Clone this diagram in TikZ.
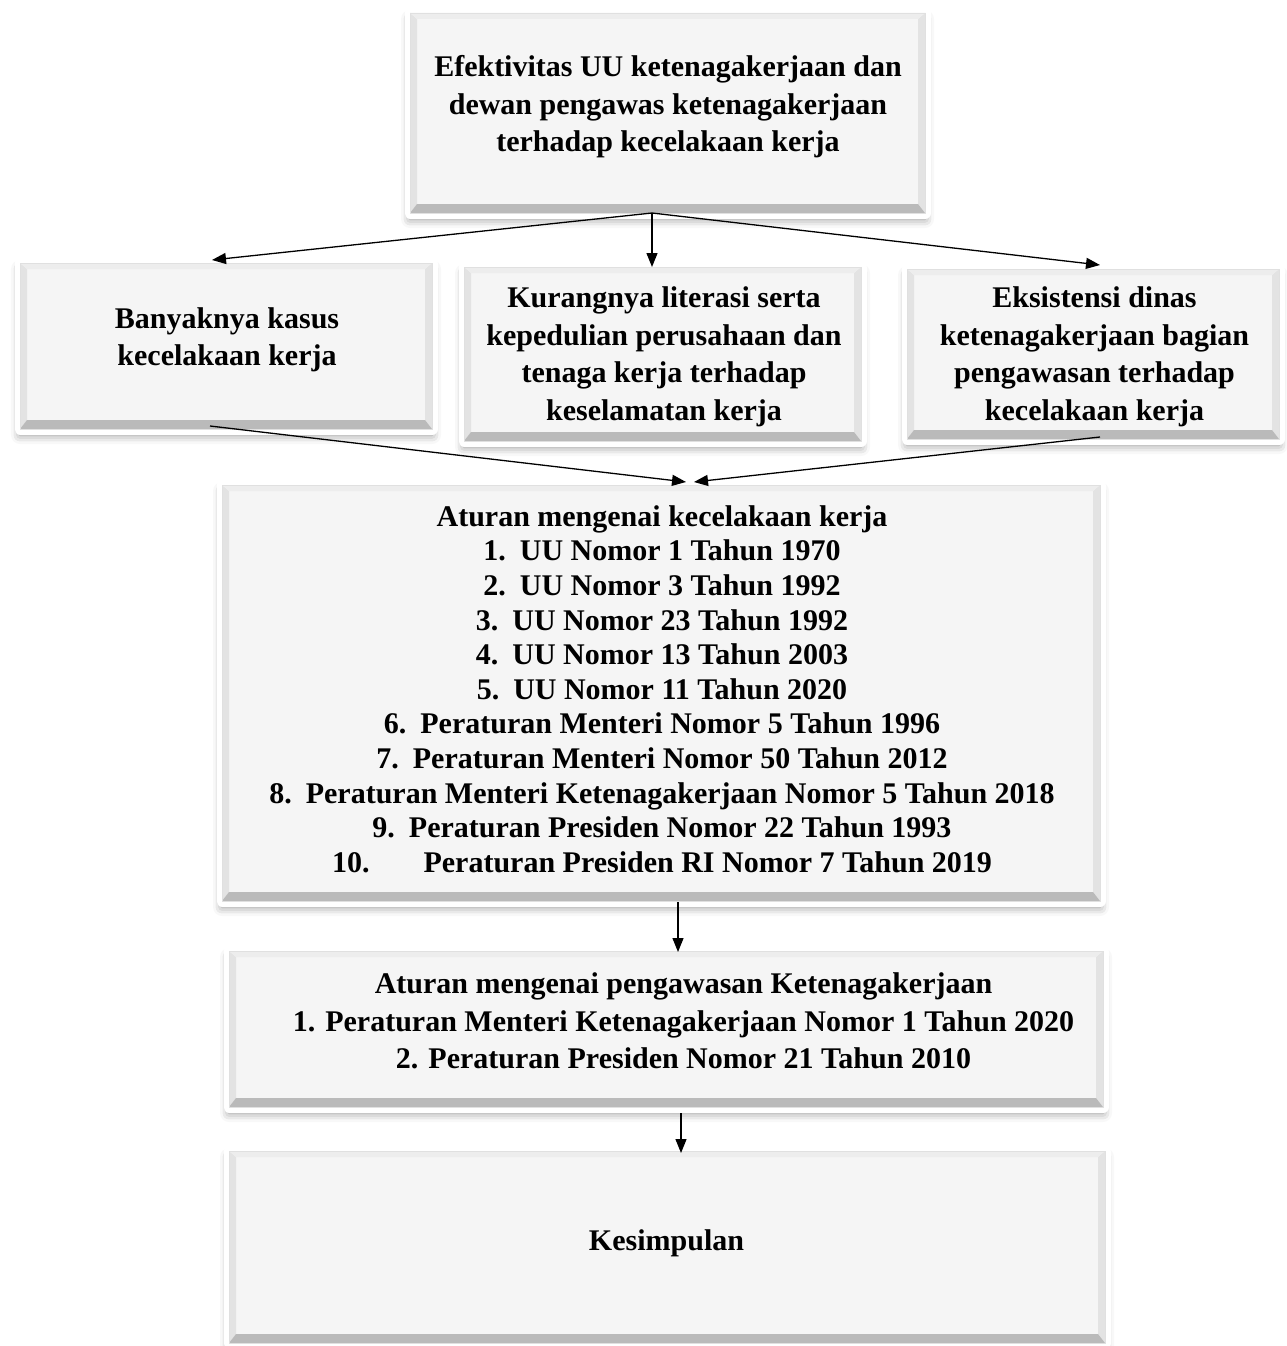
\documentclass[tikz,border=0pt]{standalone}
\usepackage{fontspec}
\setmainfont{Liberation Serif}
\usetikzlibrary{arrows.meta,shadows.blur}
\begin{document}
\begin{tikzpicture}[x=1pt,y=-1pt,
  box/.style={rectangle, inner sep=0pt,
    blur shadow={shadow xshift=0pt,shadow yshift=-6pt,shadow blur radius=9pt,shadow opacity=45},
    preaction={draw=white,line width=11pt,line join=round},
    fill=black!4, draw=black!12, line width=0.8pt,
    path picture={
      \coordinate (pSW) at (path picture bounding box.south west);
      \coordinate (pSE) at (path picture bounding box.south east);
      \coordinate (pNW) at (path picture bounding box.north west);
      \coordinate (pNE) at (path picture bounding box.north east);
      \fill[black!11] (pSW) -- ([xshift=7pt,yshift=9pt]pSW) -- ([xshift=7pt,yshift=-6pt]pNW) -- (pNW) -- cycle;
      \fill[black!11] (pSE) -- ([xshift=-7pt,yshift=9pt]pSE) -- ([xshift=-7pt,yshift=-6pt]pNE) -- (pNE) -- cycle;
      \fill[black!7] (pNW) -- (pNE) -- ([xshift=-7pt,yshift=-6pt]pNE) -- ([xshift=7pt,yshift=-6pt]pNW) -- cycle;
      \fill[black!27] (pSW) -- (pSE) -- ([xshift=-7pt,yshift=9pt]pSE) -- ([xshift=7pt,yshift=9pt]pSW) -- cycle;
    }},
  txt/.style={align=center, font=\fontsize{30}{37.5}\selectfont\bfseries, inner sep=0pt},
  arr/.style={line width=1.3pt, -{Triangle[length=14pt,width=11pt]}}]
\useasboundingbox (0,0) rectangle (1286,1346);

\node[box, minimum width=515pt, minimum height=200pt] (top) at (667.5,113) {};
\node[txt] (ttop) at (668,107) {Efektivitas UU ketenagakerjaan dan\\dewan pengawas ketenagakerjaan\\terhadap kecelakaan kerja};

\node[box, minimum width=412pt, minimum height=166pt] (bl) at (226,346) {};
\node[txt] (tbl) at (227,340) {Banyaknya kasus\\kecelakaan kerja};

\node[box, minimum width=397pt, minimum height=174pt] (bm) at (662.5,354) {};
\node[txt] (tbm) at (664,357) {Kurangnya literasi serta\\kepedulian perusahaan dan\\tenaga kerja terhadap\\keselamatan kerja};

\node[box, minimum width=372pt, minimum height=170pt] (br) at (1093,354) {};
\node[txt] (tbr) at (1094.5,357) {Eksistensi dinas\\ketenagakerjaan bagian\\pengawasan terhadap\\kecelakaan kerja};

\node[box, minimum width=878pt, minimum height=416pt] (big) at (661,693) {};
\node[txt, font=\fontsize{30}{34.6}\selectfont\bfseries] (tbig) at (662,689) {Aturan mengenai kecelakaan kerja\\
1.\hspace{14pt}UU Nomor 1 Tahun 1970\\
2.\hspace{14pt}UU Nomor 3 Tahun 1992\\
3.\hspace{14pt}UU Nomor 23 Tahun 1992\\
4.\hspace{14pt}UU Nomor 13 Tahun 2003\\
5.\hspace{14pt}UU Nomor 11 Tahun 2020\\
6.\hspace{14pt}Peraturan Menteri Nomor 5 Tahun 1996\\
7.\hspace{14pt}Peraturan Menteri Nomor 50 Tahun 2012\\
8.\hspace{14pt}Peraturan Menteri Ketenagakerjaan Nomor 5 Tahun 2018\\
9.\hspace{14pt}Peraturan Presiden Nomor 22 Tahun 1993\\
10.\hspace{54pt}Peraturan Presiden RI Nomor 7 Tahun 2019};

\node[box, minimum width=874pt, minimum height=156pt] (reg) at (666,1029) {};
\node[txt] (treg) at (683.5,1021) {Aturan mengenai pengawasan Ketenagakerjaan\\
1. Peraturan Menteri Ketenagakerjaan Nomor 1 Tahun 2020\\
2. Peraturan Presiden Nomor 21 Tahun 2010};

\node[box, minimum width=876pt, minimum height=192pt] (kes) at (667,1247) {};
\node[txt] (tkes) at (666.5,1243) {Kesimpulan};

\coordinate (ap) at (652,213);
\coordinate (tl) at (212,260);
\coordinate (tm) at (652,267);
\coordinate (tr) at (1100,265);
\coordinate (bls) at (210,426);
\coordinate (bt1) at (686,482);
\coordinate (brs) at (1100,437);
\coordinate (bt2) at (694,482);
\coordinate (g1s) at (678,902);
\coordinate (g1e) at (678,952);
\coordinate (g2s) at (681,1113);
\coordinate (g2e) at (681,1153);

\draw[arr] (ap) -- (tl);
\draw[arr] (ap) -- (tm);
\draw[arr] (ap) -- (tr);
\draw[arr] (bls) -- (bt1);
\draw[arr] (brs) -- (bt2);
\draw[arr] (g1s) -- (g1e);
\draw[arr] (g2s) -- (g2e);
\end{tikzpicture}
\end{document}
